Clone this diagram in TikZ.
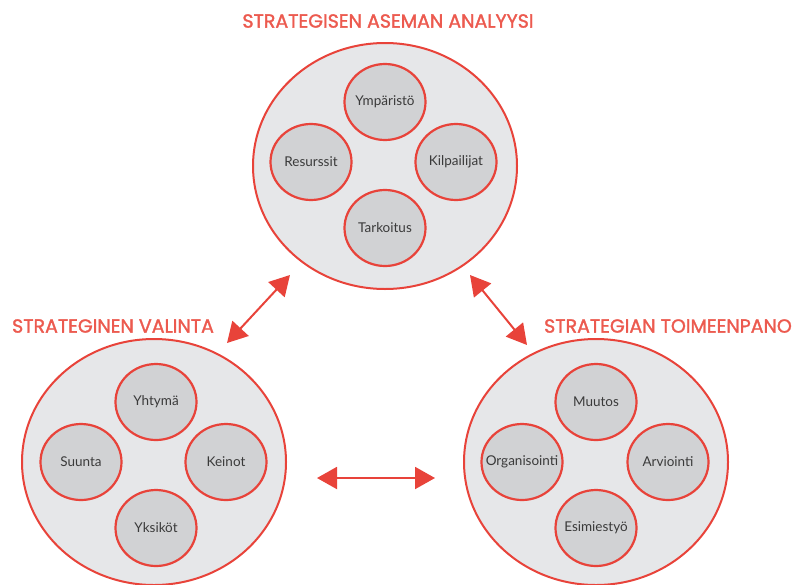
\documentclass[tikz,border=0pt]{standalone}
\usepackage{fontspec}
\setmainfont{Lato}
\newfontfamily\otsikkofont[FakeBold=1.6]{Poppins}
\usetikzlibrary{shapes.geometric,arrows.meta}
\definecolor{punainen}{HTML}{E8433A}
\definecolor{otsikko}{HTML}{EC5A4F}
\definecolor{ulkoharmaa}{HTML}{E6E7E9}
\definecolor{sisaharmaa}{HTML}{D1D2D4}
\definecolor{teksti}{HTML}{3A3A3A}
\begin{document}
\begin{tikzpicture}[x=1pt,y=-1pt, line join=round, line cap=round]
	\tikzset{
		ulko/.style={ellipse, draw=punainen, line width=2pt, fill=ulkoharmaa, minimum width=264pt, minimum height=246pt},
		sisa/.style={ellipse, draw=punainen, line width=2.2pt, fill=sisaharmaa, minimum width=81pt, minimum height=76pt, inner sep=0pt, text=teksti, font=\fontsize{13.5}{15}\selectfont,
			execute at begin node={\hbox to 0pt\bgroup\hss}, execute at end node={\hss\egroup}},
		otsikko/.style={text=otsikko, font=\otsikkofont\fontsize{19}{20}\selectfont},
		nuoli/.style={draw=punainen, line width=2pt, {Triangle[length=20pt,width=22pt]}-{Triangle[length=20pt,width=22pt]}}
	}
	\useasboundingbox (0,0) rectangle (795,584);
	% Ylaympyra
	\node[otsikko] (t1) at (388,21) {STRATEGISEN ASEMAN ANALYYSI};
	\node[ulko] (analyysi) at (385,166) {};
	\node[sisa] (ymp) at (385,102) {Ympäristö};
	\node[sisa] (res) at (311,162) {Resurssit};
	\node[sisa] (kil) at (456,162) {Kilpailijat};
	\node[sisa] (tar) at (385,228) {Tarkoitus};
	% Vasen ympyra
	\node[otsikko] (t2) at (113,326) {STRATEGINEN VALINTA};
	\node[ulko] (valinta) at (154,462) {};
	\node[sisa] (yht) at (156,402) {Yhtymä};
	\node[sisa] (suu) at (81,462) {Suunta};
	\node[sisa] (kei) at (226,462) {Keinot};
	\node[sisa] (yks) at (156,528) {Yksiköt};
	% Oikea ympyra
	\node[otsikko] (t3) at (668,326) {STRATEGIAN TOIMEENPANO};
	\node[ulko] (toimeenpano) at (596,462) {};
	\node[sisa] (muu) at (596,402) {Muutos};
	\node[sisa] (org) at (522,462) {Organisointi};
	\node[sisa] (arv) at (668,462) {Arviointi};
	\node[sisa] (esi) at (596,528) {Esimiestyö};
	% Nuolet
	\coordinate (a1) at (290,275); \coordinate (a2) at (227,343);
	\coordinate (b1) at (470,275); \coordinate (b2) at (527,345);
	\coordinate (c1) at (317,478); \coordinate (c2) at (435,478);
	\draw[nuoli] (a1)--(a2);
	\draw[nuoli] (b1)--(b2);
	\draw[nuoli] (c1)--(c2);
\end{tikzpicture}
\end{document}
